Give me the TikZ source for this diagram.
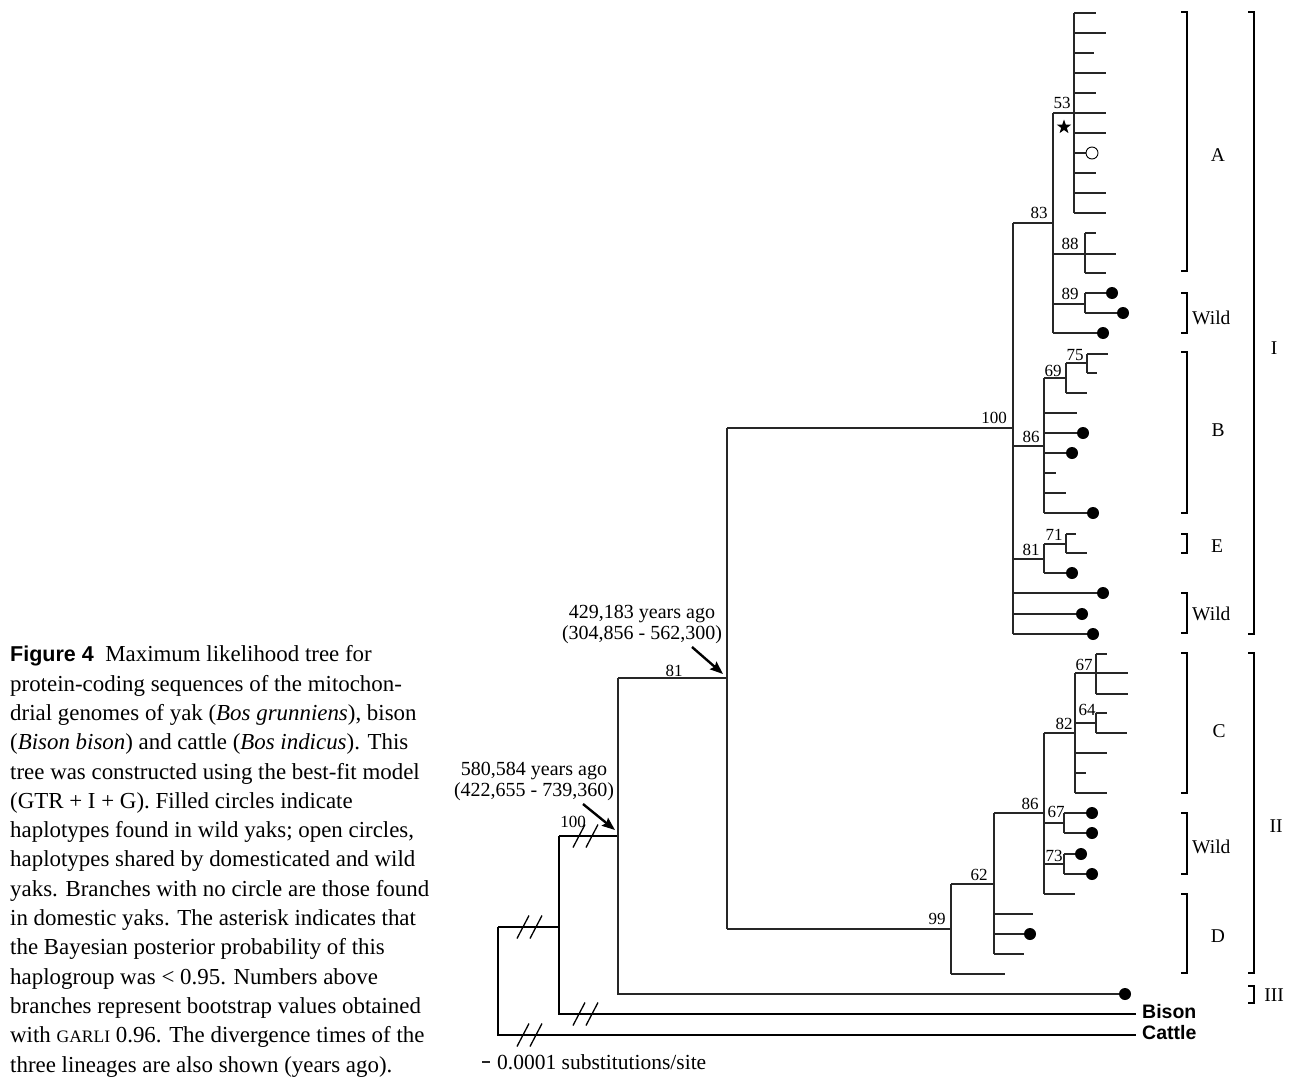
\documentclass[tikz,border=0pt]{standalone}
\usepackage{fontspec}
\setmainfont{Liberation Serif}
\setsansfont{Liberation Sans}
\usetikzlibrary{arrows.meta, positioning, shapes.geometric}
\newcommand{\cutmark}[2]{%
  \draw[cut] ({#1-12.5},{#2+11.5}) -- ({#1-0.5},{#2-11.5});
  \draw[cut] ({#1+0.5},{#2+11.5}) -- ({#1+12.5},{#2-11.5});}
\newcommand{\clbracket}[3]{\draw[brak] ({#1-6},#2) -- (#1,#2) -- (#1,#3) -- ({#1-6},#3);}

\begin{document}
\begin{tikzpicture}[x=1pt, y=-1pt,
   br/.style={line width=1.1pt, draw=black!85},
   base/.style={line width=1.7pt},
   cut/.style={line width=1.3pt},
   brak/.style={line width=1.8pt},
   wild/.style={circle, fill=black, inner sep=0pt, minimum size=12pt},
   shared/.style={circle, draw=black, line width=0.9pt, fill=white, inner sep=0pt, minimum size=12pt},
   boot/.style={font=\fontsize{17}{19}\selectfont, inner sep=0pt, anchor=base},
   grp/.style={font=\fontsize{19.5}{21}\selectfont, inner sep=0pt},
   note/.style={font=\fontsize{20}{21.5}\selectfont, align=center, inner sep=0pt},
   taxon/.style={font=\fontsize{19.5}{21}\selectfont\sffamily\bfseries, inner sep=0pt, anchor=base west},
   pointer/.style={-{Stealth[length=13pt,width=10pt,inset=2pt]}, line width=2.4pt}]
  \useasboundingbox (0,0) rectangle (1298,1076);

  % caption
  \node[anchor=north west, inner sep=0pt, align=left,
        font=\fontsize{22.9}{29.3}\selectfont] (caption) at (10,645.5)
   {{\fontsize{21.5}{29.3}\sffamily\bfseries Figure 4}\enspace Maximum likelihood tree for\\
    protein-coding sequences of the mitochon-\\
    drial genomes of yak (\textit{Bos grunniens}), bison\\
    (\textit{Bison bison}) and cattle (\textit{Bos indicus}). This\\
    tree was constructed using the best-fit model\\
    (GTR + I + G). Filled circles indicate\\
    haplotypes found in wild yaks; open circles,\\
    haplotypes shared by domesticated and wild\\
    yaks. Branches with no circle are those found\\
    in domestic yaks. The asterisk indicates that\\
    the Bayesian posterior probability of this\\
    haplogroup was < 0.95. Numbers above\\
    branches represent bootstrap values obtained\\
    with {\fontsize{17.5}{29.3}\selectfont GARLI} 0.96. The divergence times of the\\
    three lineages are also shown (years ago).};

  % backbone
  \coordinate (root) at (498,927);
  \coordinate (nBison) at (559,927);
  \coordinate (nYak) at (618,836);
  \coordinate (nI) at (727,678);
  \draw[base] (root) -- (nBison);
  \draw[base] (559,836) -- (559,1014) -- (1136,1014);
  \draw[base] (root) -- (498,1035) -- (1136,1035);
  \draw[base] (559,836) -- (nYak);
  \draw[br] (618,678) -- (618,994) -- (1125,994);
  \draw[br] (618,678) -- (nI);
  \draw[br] (727,428) -- (727,929);
  \cutmark{529.5}{927}
  \cutmark{529.5}{1035}
  \cutmark{585.5}{1014}
  \cutmark{585.5}{836}
  \node[taxon] (bison) at (1142,1018) {Bison};
  \node[taxon] (cattle) at (1142,1039) {Cattle};

  % lineage I
  \draw[br] (727,428) -- (1013,428);
  \draw[br] (1013,223) -- (1013,634);
  \draw[br] (1013,223) -- (1053,223);
  \draw[br] (1053,113) -- (1053,333);
  \draw[br] (1074,13) -- (1074,213);
  \foreach \y/\e in {13/1096,33/1106,53/1094,73/1106,93/1096,113/1106,133/1106,
                     153/1086,173/1096,193/1106,213/1106}
    \draw[br] (1074,\y) -- (\e,\y);
  \draw[br] (1053,113) -- (1074,113);
  \draw[br] (1053,254) -- (1116,254);
  \draw[br] (1085,233) -- (1085,273);
  \draw[br] (1053,304) -- (1085,304);
  \draw[br] (1085,293) -- (1085,313);
  \draw[br] (1013,446) -- (1044,446);
  \draw[br] (1044,378) -- (1044,513);
  \draw[br] (1044,378) -- (1066,378);
  \draw[br] (1066,363) -- (1066,393);
  \draw[br] (1066,363) -- (1087,363);
  \draw[br] (1087,354) -- (1087,373);
  \draw[br] (1013,559) -- (1044,559);
  \draw[br] (1044,544) -- (1044,573);
  \draw[br] (1044,544) -- (1066,544);
  \draw[br] (1066,534) -- (1066,553);

  % lineage II
  \draw[br] (727,929) -- (951,929);
  \draw[br] (951,884) -- (951,974);
  \draw[br] (951,884) -- (994,884);
  \draw[br] (994,813) -- (994,954);
  \draw[br] (994,813) -- (1044,813);
  \draw[br] (1044,733) -- (1044,894);
  \draw[br] (1044,733) -- (1075,733);
  \draw[br] (1075,673) -- (1075,793);
  \draw[br] (1075,673) -- (1096,673);
  \draw[br] (1096,654) -- (1096,694);
  \draw[br] (1075,723) -- (1096,723);
  \draw[br] (1096,713) -- (1096,733);
  \draw[br] (1044,823) -- (1064,823);
  \draw[br] (1064,813) -- (1064,833);
  \draw[br] (1044,864) -- (1064,864);
  \draw[br] (1064,854) -- (1064,874);

  % plain tips (domestic)
  \foreach \x/\y/\e in {1085/233/1096,1085/273/1106,1087/354/1108,1087/373/1097,
                        1066/393/1087,1044/413/1077,1044/473/1056,1044/493/1066,
                        1066/534/1076,1066/553/1087,1096/654/1107,1096/673/1128,
                        1096/694/1128,1096/713/1107,1096/733/1127,1075/753/1107,
                        1075/773/1086,1075/793/1107,1044/894/1075,994/914/1033,
                        994/954/1024,951/974/1005}
    \draw[br] (\x,\y) -- (\e,\y);

  % wild tips
  \foreach \x/\y/\e in {1085/293/1112,1085/313/1123,1053/333/1103,1044/433/1083,
                        1044/453/1072,1044/513/1093,1044/573/1072,1013/593/1103,
                        1013/614/1082,1013/634/1093,1064/813/1092,1064/833/1092,
                        1064/854/1081,1064/874/1092,994/934/1030}
    {\draw[br] (\x,\y) -- (\e,\y);
     \node[wild] (w\y) at (\e,\y) {};}
  \node[wild] (wIII) at (1125,994) {};
  \node[shared] (shA) at (1092,153) {};
  \node[star, star points=5, star point ratio=2.5, fill=black, inner sep=0pt,
        minimum size=15pt] (bpp) at (1064,127) {};

  % bootstrap values
  \foreach \t/\x/\y [count=\i] in {53/1062/108,83/1039/218,88/1070/249,89/1070/299,
        100/994/423,86/1031/442,69/1053/376,75/1075/360,81/1031/555,71/1054/540,
        67/1084/670,64/1087/715,82/1064/729,86/1030/809,67/1056/817,73/1054/861,
        62/979/880,99/937/924,81/674/676,100/573/827}
    \node[boot] (bs\i) at (\x,\y) {\t};

  % divergence times
  \node[note, anchor=south] (t429) at (642,644) {429,183 years ago\\(304,856 - 562,300)};
  \node[note, anchor=south] (t580) at (534,801) {580,584 years ago\\(422,655 - 739,360)};
  \coordinate (p429) at (692,647);
  \coordinate (p580) at (583,804);
  \draw[pointer] (p429) -- (723,674);
  \draw[pointer] (p580) -- (615,830);

  % haplogroups
  \clbracket{1187}{12}{271}
  \clbracket{1187}{293}{333}
  \clbracket{1187}{352}{513}
  \clbracket{1187}{534}{553}
  \clbracket{1187}{593}{633}
  \clbracket{1187}{653}{793}
  \clbracket{1187}{813}{874}
  \clbracket{1187}{894}{973}
  \clbracket{1254}{12}{634}
  \clbracket{1254}{653}{973}
  \clbracket{1254}{986}{1003}
  \node[grp] (gA) at (1218,155) {A};
  \node[grp, anchor=west] (gW1) at (1192,318) {Wild};
  \node[grp] (gB) at (1218,430) {B};
  \node[grp] (gE) at (1217,546) {E};
  \node[grp, anchor=west] (gW2) at (1192,614) {Wild};
  \node[grp] (gC) at (1219,731) {C};
  \node[grp, anchor=west] (gW3) at (1192,847) {Wild};
  \node[grp] (gD) at (1218,936) {D};
  \node[grp] (lI) at (1274,348) {I};
  \node[grp] (lII) at (1276,826) {II};
  \node[grp] (lIII) at (1274,995) {III};

  % scale bar
  \draw[br] (482,1062) -- (490,1062);
  \node[anchor=base west, inner sep=0pt, font=\fontsize{21.5}{23}\selectfont]
    (scale) at (497,1069) {0.0001 substitutions/site};
\end{tikzpicture}
\end{document}
